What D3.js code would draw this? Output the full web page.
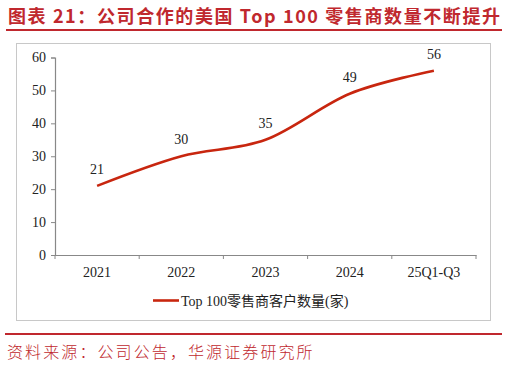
<!DOCTYPE html>
<html><head><meta charset="utf-8">
<script src="https://cdn.jsdelivr.net/npm/d3@7"></script>
<style>body{margin:0;background:#fff}svg{display:block}</style>
</head><body>
<svg id="c" width="507" height="367"></svg>
<script>
const categories = ["2021","2022","2023","2024","25Q1-Q3"];
const values = [21,30,35,49,56];
const yTicks = [0,10,20,30,40,50,60];
const titleText = "图表 21：公司合作的美国 Top 100 零售商数量不断提升";
const legendText = "Top 100零售商客户数量(家)";
const sourceText = "资料来源：公司公告，华源证券研究所";

const svg = d3.select("#c");
const red = "#c0282e";
const serif = "'Liberation Serif','Times New Roman',serif";

svg.append("text").attr("x",8).attr("y",23).attr("fill",red)
  .attr("font-family","'Noto Sans CJK SC',sans-serif").attr("font-weight","bold")
  .attr("font-size",18).attr("letter-spacing",1.6).text(titleText);
svg.append("rect").attr("x",6).attr("y",29).attr("width",496).attr("height",2).attr("fill",red);

svg.append("rect").attr("x",16.5).attr("y",43.5).attr("width",474).attr("height",277)
  .attr("fill","none").attr("stroke","#c8c8c8").attr("stroke-width",1);

const x = d3.scaleBand().domain(categories).range([55,476]);
const y = d3.scaleLinear().domain([0,60]).range([255,57.5]);

const yAxis = svg.append("g").attr("transform","translate(55,0)")
  .call(d3.axisLeft(y).tickValues(yTicks).tickSize(4).tickPadding(5));
const xAxis = svg.append("g").attr("transform","translate(0,255)")
  .call(d3.axisBottom(x).tickSize(0).tickPadding(12));
xAxis.selectAll(".tick").append("line").attr("x1",-x.bandwidth()/2).attr("x2",-x.bandwidth()/2)
  .attr("y1",0).attr("y2",4).attr("stroke","#888");
xAxis.append("line").attr("x1",x.range()[1]).attr("x2",x.range()[1]).attr("y1",0).attr("y2",4).attr("stroke","#888");
[yAxis,xAxis].forEach(g=>{
  g.select(".domain").attr("stroke","#888").attr("stroke-width",1.2);
  g.selectAll("line").attr("stroke","#888");
  g.selectAll("text").attr("font-family",serif).attr("font-size",14).attr("fill","#222");
});

const cx = d => x(d)+x.bandwidth()/2;
const line = d3.line().x((d,i)=>cx(categories[i])).y(d=>y(d)).curve(d3.curveCatmullRom.alpha(0));
svg.append("path").datum(values).attr("d",line).attr("fill","none")
  .attr("stroke","#c8260f").attr("stroke-width",2.6);

svg.selectAll(".lbl").data(values).enter().append("text")
  .attr("x",(d,i)=>cx(categories[i])).attr("y",d=>y(d)-12).attr("text-anchor","middle")
  .attr("font-family",serif).attr("font-size",14).attr("fill","#222").text(d=>d);

svg.append("line").attr("x1",153).attr("x2",179).attr("y1",300.5).attr("y2",300.5)
  .attr("stroke","#c8260f").attr("stroke-width",2.6);
svg.append("text").attr("x",181).attr("y",305.5).attr("font-family",serif+",'Noto Sans CJK SC'")
  .attr("font-size",14).attr("fill","#222").text(legendText);

svg.append("rect").attr("x",5).attr("y",333).attr("width",497).attr("height",2).attr("fill",red);
svg.append("text").attr("x",7).attr("y",358).attr("fill",red)
  .attr("font-family","'Noto Sans CJK SC',sans-serif").attr("font-weight",300)
  .attr("font-size",16).attr("letter-spacing",2.1).text(sourceText);
</script>
</body></html>
